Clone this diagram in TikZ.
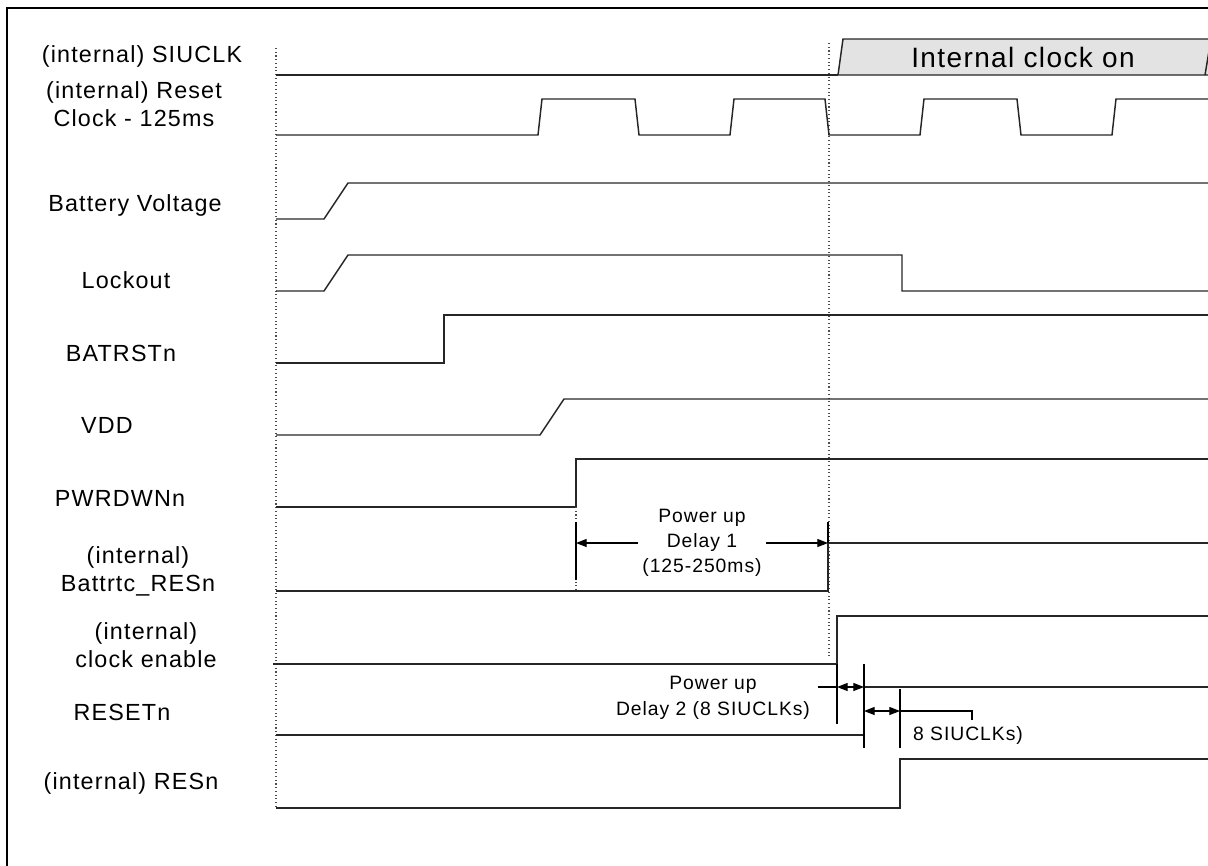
\documentclass[tikz,border=0pt]{standalone}
\usepackage{fontspec}
\setmainfont{Liberation Sans}[LetterSpace=5]
\usetikzlibrary{arrows.meta}
\begin{document}
\begin{tikzpicture}[x=0.75pt,y=-0.75pt,
  sig/.style={line width=1.1pt, black!85, line join=miter},
  gridline/.style={dotted, line width=0.8pt, black!70},
  lab/.style={font=\fontsize{17.5}{21}\selectfont, align=center, inner sep=0pt},
  note/.style={font=\fontsize{14.5}{19}\selectfont, align=center, inner sep=0pt},
  big/.style={font=\fontsize{21}{24}\selectfont, inner sep=0pt},
  dim/.style={line width=0.9pt, black},
  ext/.style={line width=0.9pt, black}]
\useasboundingbox (0,0) rectangle (1208,865);
% frame
\draw[line width=1.6pt] (7,866) -- (7,8) -- (1210,8);

% dotted reference lines
\draw[gridline] (276,48) -- (276,808);
\draw[gridline] (829,43) -- (829,658);

% labels
\node[lab] (lsiu) at (142,56) {(internal) SIUCLK};
\node[lab] (lrst) at (134,104) {(internal) Reset\\Clock - 125ms};
\node[lab] (lbat) at (135,205) {Battery Voltage};
\node[lab] (llck) at (126,280) {Lockout};
\node[lab] (lbrs) at (121,353) {BATRSTn};
\node[lab] (lvdd) at (107,425) {VDD};
\node[lab] (lpwr) at (120,498) {PWRDWNn};
\node[lab] (lbrt) at (138,571) {(internal)\\Battrtc\_RESn};
\node[lab] (lcen) at (146,645) {(internal)\\clock enable};
\node[lab] (lrsn) at (122,712) {RESETn};
\node[lab] (lres) at (131,783) {(internal) RESn};

% SIUCLK
\draw[sig] (276,75) -- (838,75);
\draw[sig, fill=black!11] (838,75) -- (843,39) -- (1212,39) -- (1212,75) -- cycle;
\draw[sig] (1205,75) -- (1210,45);
\node[big] (clkon) at (1023,57) {Internal clock on};

% Reset clock
\draw[sig] (276,135) -- (538,135) -- (542,99) -- (635,99) -- (639,135) -- (730,135) -- (734,99)
  -- (825,99) -- (829,135) -- (920,135) -- (924,99) -- (1017,99) -- (1021,135) -- (1112,135)
  -- (1116,99) -- (1210,99);

% Battery voltage
\draw[sig] (276,219) -- (324,219) -- (348,183) -- (1210,183);
% Lockout
\draw[sig] (276,291) -- (324,291) -- (348,255) -- (902,255) -- (902,291) -- (1210,291);
% BATRSTn
\draw[sig] (276,363) -- (444,363) -- (444,315) -- (1210,315);
% VDD
\draw[sig] (276,435) -- (540,435) -- (564,399) -- (1210,399);
% PWRDWNn
\draw[sig] (276,507) -- (576,507) -- (576,459) -- (1210,459);
% Battrtc_RESn
\draw[sig] (276,591) -- (828,591) -- (828,543) -- (1210,543);
% clock enable
\draw[sig] (273,664) -- (837,664) -- (837,616) -- (1210,616);
% RESETn
\draw[sig] (276,735) -- (864,735) -- (864,687) -- (1210,687);
% RESn
\draw[sig] (276,808) -- (900,808) -- (900,759) -- (1210,759);

% Delay 1 dimension
\draw[gridline] (576,507) -- (576,591);
\draw[ext] (576,522) -- (576,580);
\draw[ext] (828,522) -- (828,543);
\coordinate (d1a) at (576,543);
\coordinate (d1b) at (828,543);
\coordinate (d1c) at (638,543);
\coordinate (d1d) at (766,543);
\draw[dim, {Triangle[length=8pt,width=6pt]}-] (d1a) -- (d1c);
\draw[dim, -{Triangle[length=8pt,width=6pt]}] (d1d) -- (d1b);
\node[note] (n1) at (702,543) {Power up\\[-0.5pt]Delay 1\\[-0.5pt](125-250ms)};

% Delay 2 dimension
\draw[ext] (837,664) -- (837,724);
\draw[ext] (864,664) -- (864,748);
\coordinate (d2l) at (818,687);
\coordinate (d2a) at (837,687);
\coordinate (d2b) at (864,687);
\draw[dim] (d2l) -- (d2a);
\draw[dim, {Triangle[length=8pt,width=6pt]}-{Triangle[length=8pt,width=6pt]}] (d2a) -- (d2b);
\node[note] (n2) at (713,698) {Power up\\Delay 2 (8 SIUCLKs)};

% 8 SIUCLKs dimension
\draw[ext] (900,689) -- (900,748);
\coordinate (d3a) at (864,711);
\coordinate (d3b) at (900,711);
\coordinate (d3c) at (972,711);
\coordinate (d3d) at (972,720);
\draw[dim, {Triangle[length=8pt,width=6pt]}-{Triangle[length=8pt,width=6pt]}] (d3a) -- (d3b);
\draw[dim] (d3b) -- (d3c) -- (d3d);
\node[note] (n3) at (968,735) {8 SIUCLKs)};
\end{tikzpicture}
\end{document}
